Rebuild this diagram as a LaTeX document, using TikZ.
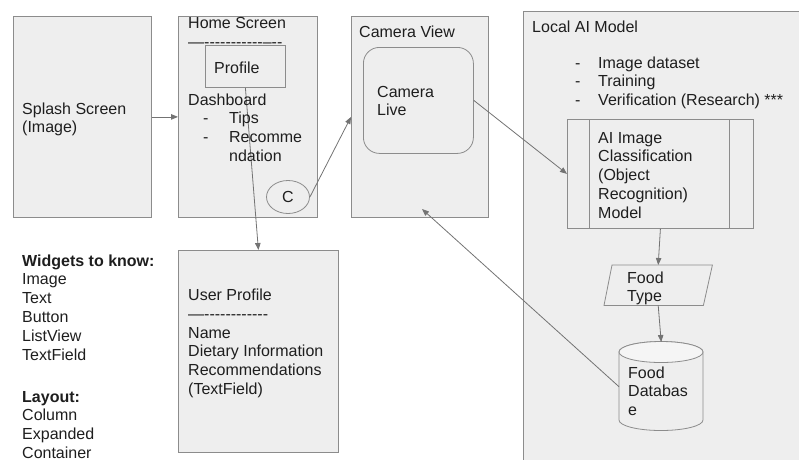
\documentclass[tikz,border=0pt]{standalone}
\usepackage{fontspec}
\setmainfont{Liberation Sans}
\usetikzlibrary{shapes.geometric,arrows.meta}
\definecolor{boxfill}{HTML}{EEEEEE}
\definecolor{boxline}{HTML}{8C8C8C}
\definecolor{wire}{HTML}{737373}
\definecolor{ink}{HTML}{1E1E1E}
% left-aligned stack of lines whose baseline is the first line's baseline
\newcommand\stack[1]{\vtop{\baselineskip=18.8pt\lineskiplimit=0pt\halign{##\hfil\cr#1\crcr}}}
\newcommand\hyrow{-{}-{}-{}-{}-{}-{}-{}-{}-{}-{}-{}-}
\tikzset{
  panel/.style={draw=boxline, fill=boxfill, line width=0.8pt, anchor=north west, inner sep=0pt},
  ghost/.style={anchor=north west, inner sep=0pt},
  txt/.style={anchor=base west, inner sep=0pt, text=ink, font=\fontsize{16}{19}\selectfont},
  arr/.style={draw=wire, line width=0.8pt, -{Triangle[length=7pt,width=5.5pt]}},
}
\begin{document}
\begin{tikzpicture}[x=1pt,y=-1pt]
\useasboundingbox (0,0) rectangle (799,459);

% screens
\node[panel, minimum width=138pt, minimum height=201pt] (ss) at (13,16) {};
\node[panel, minimum width=139pt, minimum height=201pt] (hs) at (178,16) {};
\node[panel, minimum width=80pt, minimum height=42pt] (prof) at (205,45) {};
\node[panel, ellipse, anchor=center, minimum width=43pt, minimum height=33pt,
      text=ink, font=\fontsize{16}{19}\selectfont] (c) at (288,197) {C};
\node[panel, minimum width=137pt, minimum height=201pt] (cv) at (351,16) {};
\node[panel, rounded corners=16pt, minimum width=110pt, minimum height=106pt] (cl) at (363,47) {};
\node[panel, minimum width=160pt, minimum height=202pt] (up) at (178,250) {};

% local model area, running off the page
\begin{scope}
  \clip (0,0) rectangle (799,459);
  \node[panel, minimum width=300pt, minimum height=470pt] (lai) at (523,11) {};
\end{scope}

% classification model (predefined process)
\node[panel, minimum width=186pt, minimum height=109pt] (ai) at (567,119) {};
\draw[boxline, line width=0.8pt] ([xshift=22pt]ai.north west) -- ([xshift=22pt]ai.south west);
\draw[boxline, line width=0.8pt] ([xshift=-24pt]ai.north east) -- ([xshift=-24pt]ai.south east);

% food type (data parallelogram)
\node[ghost, minimum width=108pt, minimum height=40pt] (ft) at (604,265) {};
\draw[boxline, fill=boxfill, line width=0.8pt]
  ([xshift=8pt]ft.north west) -- (ft.north east) -- ([xshift=-9pt]ft.south east) -- (ft.south west) -- cycle;

% food database (cylinder)
\node[ghost, minimum width=84pt, minimum height=89pt] (db) at (619,342) {};
\draw[boxline, fill=boxfill, line width=0.8pt]
  (619,352) -- (619,420) arc[start angle=180, end angle=360, x radius=42pt, y radius=10.5pt]
  -- (703,352) arc[start angle=0, end angle=180, x radius=42pt, y radius=10.5pt] -- cycle;
\draw[boxline, fill=boxfill!60!white, line width=0.8pt] (661,352) ellipse[x radius=42pt, y radius=10.5pt];

% connectors
\coordinate (cvin) at (422,209);
\draw[arr] (ss.east) -- (hs.west);
\draw[arr] (c.east) -- (cv.west);
\draw[arr] (prof.south) -- (up.north);
\draw[arr] (cl.east) -- (ai.west);
\draw[arr] (ai.south) -- (ft.north);
\draw[arr] (ft.south) -- (db.north);
\draw[arr] (db.west) -- (cvin);

% texts
\node[txt] (tss) at (22,114) {\stack{Splash Screen\cr(Image)}};
\node[txt] (ths) at (188,28) {Home Screen};
\node[txt] (thsl) at (188,47) {—\hyrow-{}-{}-};
\node[txt] (tprof) at (214,73) {Profile};
\node[txt] (tdash) at (188,105) {\stack{Dashboard\cr
  \hspace*{15pt}\makebox[26pt][l]{-}Tips\cr
  \hspace*{15pt}\makebox[26pt][l]{-}Recomme\cr
  \hspace*{41pt}ndation}};
\node[txt] (tcv) at (359,37) {Camera View};
\node[txt] (tcl) at (377,97) {\stack{Camera\cr Live}};
\node[txt] (tlai) at (532,32) {Local AI Model};
\node[txt] (tlist) at (575,68) {\stack{\makebox[23pt][l]{-}Image dataset\cr
  \makebox[23pt][l]{-}Training\cr
  \makebox[23pt][l]{-}Verification (Research) ***}};
\node[txt] (tai) at (598,143) {\stack{AI Image\cr Classification\cr (Object\cr Recognition)\cr Model}};
\node[txt] (tft) at (627,283) {\stack{Food\cr Type}};
\node[txt] (tdb) at (628,378) {\stack{Food\cr Databas\cr e}};
\node[txt] (tup) at (188,300) {User Profile};
\node[txt] (tupl) at (188,319) {—\hyrow};
\node[txt] (tupf) at (188,338) {\stack{Name\cr Dietary Information\cr Recommendations\cr (TextField)}};
\node[txt] (twid) at (22,266) {\stack{\bfseries Widgets to know:\cr Image\cr Text\cr Button\cr ListView\cr TextField}};
\node[txt] (tlay) at (22,402) {\stack{\bfseries Layout:\cr Column\cr Expanded\cr Container}};
\end{tikzpicture}
\end{document}
